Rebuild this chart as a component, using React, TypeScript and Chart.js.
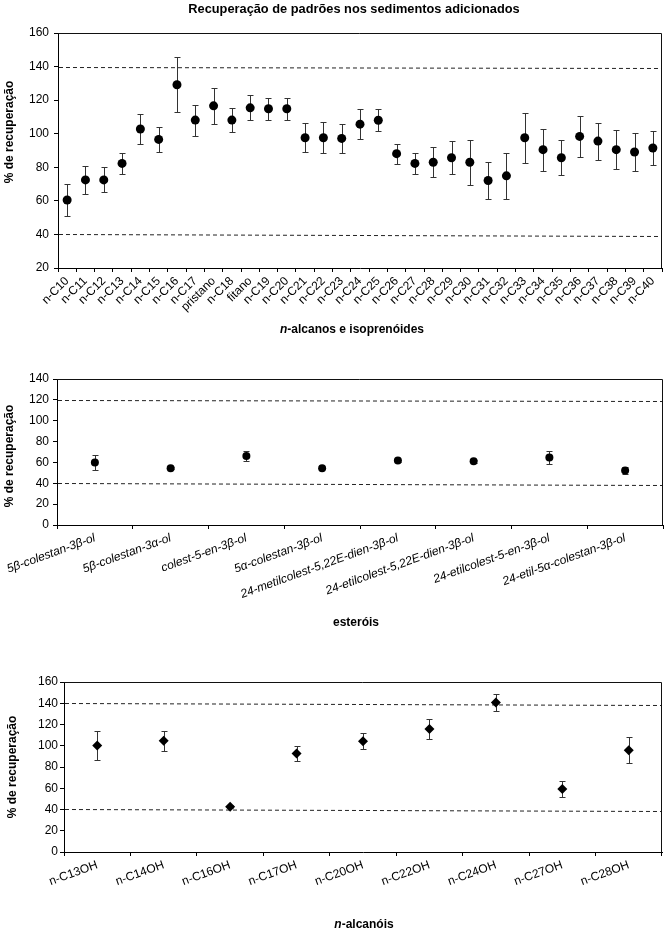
import React, { useEffect, useRef } from 'react';
import { Chart, registerables } from 'chart.js';

Chart.register(...registerables);

const FONT = "'Liberation Sans', Arial, Helvetica, sans-serif";

// ---------- Chart 1: n-alcanos e isoprenóides ----------
const alkaneLabels = [
  'n-C10', 'n-C11', 'n-C12', 'n-C13', 'n-C14', 'n-C15', 'n-C16', 'n-C17', 'pristano', 'n-C18', 'fitano',
  'n-C19', 'n-C20', 'n-C21', 'n-C22', 'n-C23', 'n-C24', 'n-C25', 'n-C26', 'n-C27', 'n-C28', 'n-C29',
  'n-C30', 'n-C31', 'n-C32', 'n-C33', 'n-C34', 'n-C35', 'n-C36', 'n-C37', 'n-C38', 'n-C39', 'n-C40',
];
const alkaneMeans = [
  60.5, 72.5, 72.5, 82.3, 102.8, 96.6, 129.2, 108.1, 116.6, 108.1, 115.4,
  114.9, 114.9, 97.6, 97.6, 97.2, 105.7, 108.0, 88.1, 82.3, 83.0, 85.7,
  83.0, 72.1, 74.9, 97.6, 90.5, 85.7, 98.4, 95.6, 90.5, 89.1, 91.5,
];
const alkaneErrors = [
  9.7, 8.4, 7.5, 6.3, 8.7, 7.5, 16.3, 9.3, 10.8, 7.1, 7.4,
  6.5, 6.5, 8.6, 9.3, 8.7, 8.9, 6.6, 5.9, 6.4, 9.0, 9.8,
  13.5, 10.8, 13.8, 15.0, 12.6, 10.5, 12.2, 11.0, 11.7, 11.1, 9.9,
];
const alkaneLimitsStart = [140, 40];
const alkaneLimitsEnd = [139, 39];
const alkaneYRange = [20, 160];

// ---------- Chart 2: esteróis ----------
const sterolLabels = [
  '5β-colestan-3β-ol', '5β-colestan-3α-ol', 'colest-5-en-3β-ol', '5α-colestan-3β-ol',
  '24-metilcolest-5,22E-dien-3β-ol', '24-etilcolest-5,22E-dien-3β-ol', '24-etilcolest-5-en-3β-ol',
  '24-etil-5α-colestan-3β-ol',
];
const sterolMeans = [59.9, 54.4, 66.2, 54.4, 61.8, 61.1, 64.7, 52.2];
const sterolErrors = [7.0, 1.0, 4.6, 1.0, 1.0, 1.5, 6.4, 3.0];
const sterolLimitsStart = [120, 40.3];
const sterolLimitsEnd = [118.5, 38.8];
const sterolYRange = [0, 140];

// ---------- Chart 3: n-alcanóis ----------
const alcoholLabels = ['n-C13OH', 'n-C14OH', 'n-C16OH', 'n-C17OH', 'n-C20OH', 'n-C22OH', 'n-C24OH', 'n-C27OH', 'n-C28OH'];
const alcoholMeans = [100.2, 104.6, 42.6, 92.7, 104.3, 115.8, 140.6, 59.2, 95.8];
const alcoholErrors = [13.6, 9.5, 1.5, 7.3, 7.5, 9.7, 8.2, 7.8, 12.5];
const alcoholLimitsStart = [140.2, 40.1];
const alcoholLimitsEnd = [138.7, 38.5];
const alcoholYRange = [0, 160];

const Y_STEP = 20;
const Y_TITLE = '% de recuperação';
const MAIN_TITLE = 'Recuperação de padrões nos sedimentos adicionados';

type Spec = {
  labels: string[];
  means: number[];
  errors: number[];
  limStart: number[];
  limEnd: number[];
  yRange: number[];
  top: number;
  height: number;
  area: { left: number; right: number; top: number; bottom: number };
  pointStyle: string;
  pointRadius: number;
  rotation: number;
  italicTicks: boolean;
  xTickSize: number;
  tickPadX: number;
  tickPadY: number;
  title?: { text: string; x: number; y: number };
  xTitle: { italic: string; rest: string; x: number; y: number };
  yTitle: { x: number; y: number };
};

const WIDTH = 667;

const decor = {
  id: 'decor',
  beforeDatasetsDraw(chart: any, _args: any, opts: any) {
    const { ctx, chartArea: ca, scales } = chart;
    const y = scales.y;
    ctx.save();
    // dashed limit lines
    ctx.strokeStyle = '#222';
    ctx.lineWidth = 1;
    ctx.setLineDash([4, 3]);
    (opts.limStart as number[]).forEach((v: number, i: number) => {
      const y0 = Math.round(y.getPixelForValue(v)) + 0.5;
      const y1 = Math.round(y.getPixelForValue(opts.limEnd[i])) + 0.5;
      ctx.beginPath();
      ctx.moveTo(ca.left + 1, y0);
      ctx.lineTo(ca.right - 1, y1);
      ctx.stroke();
    });
    ctx.setLineDash([]);
    // error bars
    const meta = chart.getDatasetMeta(0);
    const vals = chart.data.datasets[0].data as number[];
    ctx.strokeStyle = '#333';
    meta.data.forEach((pt: any, i: number) => {
      const e = opts.errors[i];
      const v = vals[i];
      const x = Math.round(pt.x) + 0.5;
      const yt = Math.round(y.getPixelForValue(v + e)) + 0.5;
      const yb = Math.round(y.getPixelForValue(v - e)) + 0.5;
      ctx.beginPath();
      ctx.moveTo(x, yt);
      ctx.lineTo(x, yb);
      ctx.moveTo(x - 3, yt);
      ctx.lineTo(x + 3, yt);
      ctx.moveTo(x - 3, yb);
      ctx.lineTo(x + 3, yb);
      ctx.stroke();
    });
    ctx.restore();
  },
  afterDraw(chart: any, _args: any, opts: any) {
    const { ctx, chartArea: ca } = chart;
    ctx.save();
    // frame top and right
    ctx.strokeStyle = '#111';
    ctx.lineWidth = 1;
    const t = Math.round(ca.top) + 0.5;
    const r = Math.round(ca.right) - 0.5;
    ctx.beginPath();
    ctx.moveTo(ca.left, t);
    ctx.lineTo(r, t);
    ctx.lineTo(r, ca.bottom);
    ctx.stroke();

    ctx.fillStyle = '#000';
    ctx.textBaseline = 'middle';
    if (opts.title) {
      ctx.font = `bold 12.8px ${FONT}`;
      ctx.textAlign = 'center';
      ctx.fillText(opts.title.text, opts.title.x, opts.title.y);
    }
    // x title with italic prefix
    const xt = opts.xTitle;
    ctx.textAlign = 'left';
    ctx.font = `italic bold 12px ${FONT}`;
    const w1 = ctx.measureText(xt.italic).width;
    ctx.font = `bold 12px ${FONT}`;
    const w2 = ctx.measureText(xt.rest).width;
    const x0 = xt.x - (w1 + w2) / 2;
    ctx.font = `italic bold 12px ${FONT}`;
    ctx.fillText(xt.italic, x0, xt.y);
    ctx.font = `bold 12px ${FONT}`;
    ctx.fillText(xt.rest, x0 + w1, xt.y);
    // y title
    ctx.translate(opts.yTitle.x, opts.yTitle.y);
    ctx.rotate(-Math.PI / 2);
    ctx.textAlign = 'center';
    ctx.font = `bold 12px ${FONT}`;
    ctx.fillText(Y_TITLE, 0, 0);
    ctx.restore();
  },
};

function makeConfig(s: Spec): any {
  const H = s.height;
  return {
    type: 'line',
    data: {
      labels: s.labels,
      datasets: [
        {
          data: s.means,
          showLine: false,
          pointStyle: s.pointStyle,
          pointRadius: s.pointRadius,
          pointHoverRadius: s.pointRadius,
          backgroundColor: '#000',
          borderColor: '#000',
          borderWidth: 0,
        },
      ],
    },
    plugins: [decor],
    options: {
      responsive: false,
      animation: false,
      devicePixelRatio: 1,
      layout: {
        padding: { left: 0, top: s.area.top, right: WIDTH - s.area.right, bottom: 0 },
      },
      plugins: {
        legend: { display: false },
        title: { display: false },
        tooltip: { enabled: false },
        decor: {
          limStart: s.limStart,
          limEnd: s.limEnd,
          errors: s.errors,
          title: s.title,
          xTitle: s.xTitle,
          yTitle: s.yTitle,
        },
      },
      scales: {
        x: {
          type: 'category',
          offset: true,
          grid: {
            display: true,
            drawOnChartArea: false,
            drawTicks: true,
            tickLength: 4,
            offset: true,
            color: '#000',
          },
          border: { display: true, color: '#000', width: 1 },
          ticks: {
            autoSkip: false,
            maxRotation: s.rotation,
            minRotation: s.rotation,
            padding: s.tickPadX,
            color: '#000',
            font: { family: FONT, size: s.xTickSize, style: s.italicTicks ? 'italic' : 'normal' },
          },
          afterFit(scale: any) {
            scale.height = H - s.area.bottom;
          },
        },
        y: {
          type: 'linear',
          min: s.yRange[0],
          max: s.yRange[1],
          grid: {
            display: true,
            drawOnChartArea: false,
            drawTicks: true,
            tickLength: 4,
            color: '#000',
          },
          border: { display: true, color: '#000', width: 1 },
          ticks: {
            stepSize: Y_STEP,
            padding: s.tickPadY,
            color: '#000',
            font: { family: FONT, size: 12 },
          },
          afterFit(scale: any) {
            scale.width = s.area.left;
          },
        },
      },
    },
  };
}

const specs: Spec[] = [
  {
    labels: alkaneLabels,
    means: alkaneMeans,
    errors: alkaneErrors,
    limStart: alkaneLimitsStart,
    limEnd: alkaneLimitsEnd,
    yRange: alkaneYRange,
    top: 0,
    height: 345,
    area: { left: 58, right: 662, top: 33, bottom: 268 },
    pointStyle: 'circle',
    pointRadius: 4.5,
    rotation: 45,
    italicTicks: false,
    xTickSize: 12,
    tickPadX: 2,
    tickPadY: 5,
    title: { text: MAIN_TITLE, x: 354, y: 9 },
    xTitle: { italic: 'n', rest: '-alcanos e isoprenóides', x: 352, y: 330 },
    yTitle: { x: 10, y: 132 },
  },
  {
    labels: sterolLabels,
    means: sterolMeans,
    errors: sterolErrors,
    limStart: sterolLimitsStart,
    limEnd: sterolLimitsEnd,
    yRange: sterolYRange,
    top: 345,
    height: 290,
    area: { left: 57, right: 663, top: 34, bottom: 180 },
    pointStyle: 'circle',
    pointRadius: 4,
    rotation: 20,
    italicTicks: true,
    xTickSize: 12,
    tickPadX: 2,
    tickPadY: 4,
    xTitle: { italic: '', rest: 'esteróis', x: 356, y: 278 },
    yTitle: { x: 10, y: 111 },
  },
  {
    labels: alcoholLabels,
    means: alcoholMeans,
    errors: alcoholErrors,
    limStart: alcoholLimitsStart,
    limEnd: alcoholLimitsEnd,
    yRange: alcoholYRange,
    top: 635,
    height: 297,
    area: { left: 64, right: 663, top: 47, bottom: 217 },
    pointStyle: 'rectRot',
    pointRadius: 5,
    rotation: 20,
    italicTicks: false,
    xTickSize: 12,
    tickPadX: 2,
    tickPadY: 2,
    xTitle: { italic: 'n', rest: '-alcanóis', x: 364, y: 290 },
    yTitle: { x: 13, y: 132 },
  },
];

function ChartBox({ spec }: { spec: Spec }) {
  const ref = useRef<HTMLCanvasElement | null>(null);
  useEffect(() => {
    if (!ref.current) return;
    const chart = new Chart(ref.current, makeConfig(spec));
    return () => chart.destroy();
  }, [spec]);
  return (
    <div style={{ position: 'absolute', left: 0, top: spec.top, width: WIDTH, height: spec.height }}>
      <canvas ref={ref} width={WIDTH} height={spec.height} style={{ display: 'block', width: WIDTH, height: spec.height }} />
    </div>
  );
}

export default function App() {
  return (
    <div style={{ position: 'absolute', left: 0, top: 0, width: WIDTH, height: 932, background: '#fff' }}>
      {specs.map((s, i) => (
        <ChartBox key={i} spec={s} />
      ))}
    </div>
  );
}
